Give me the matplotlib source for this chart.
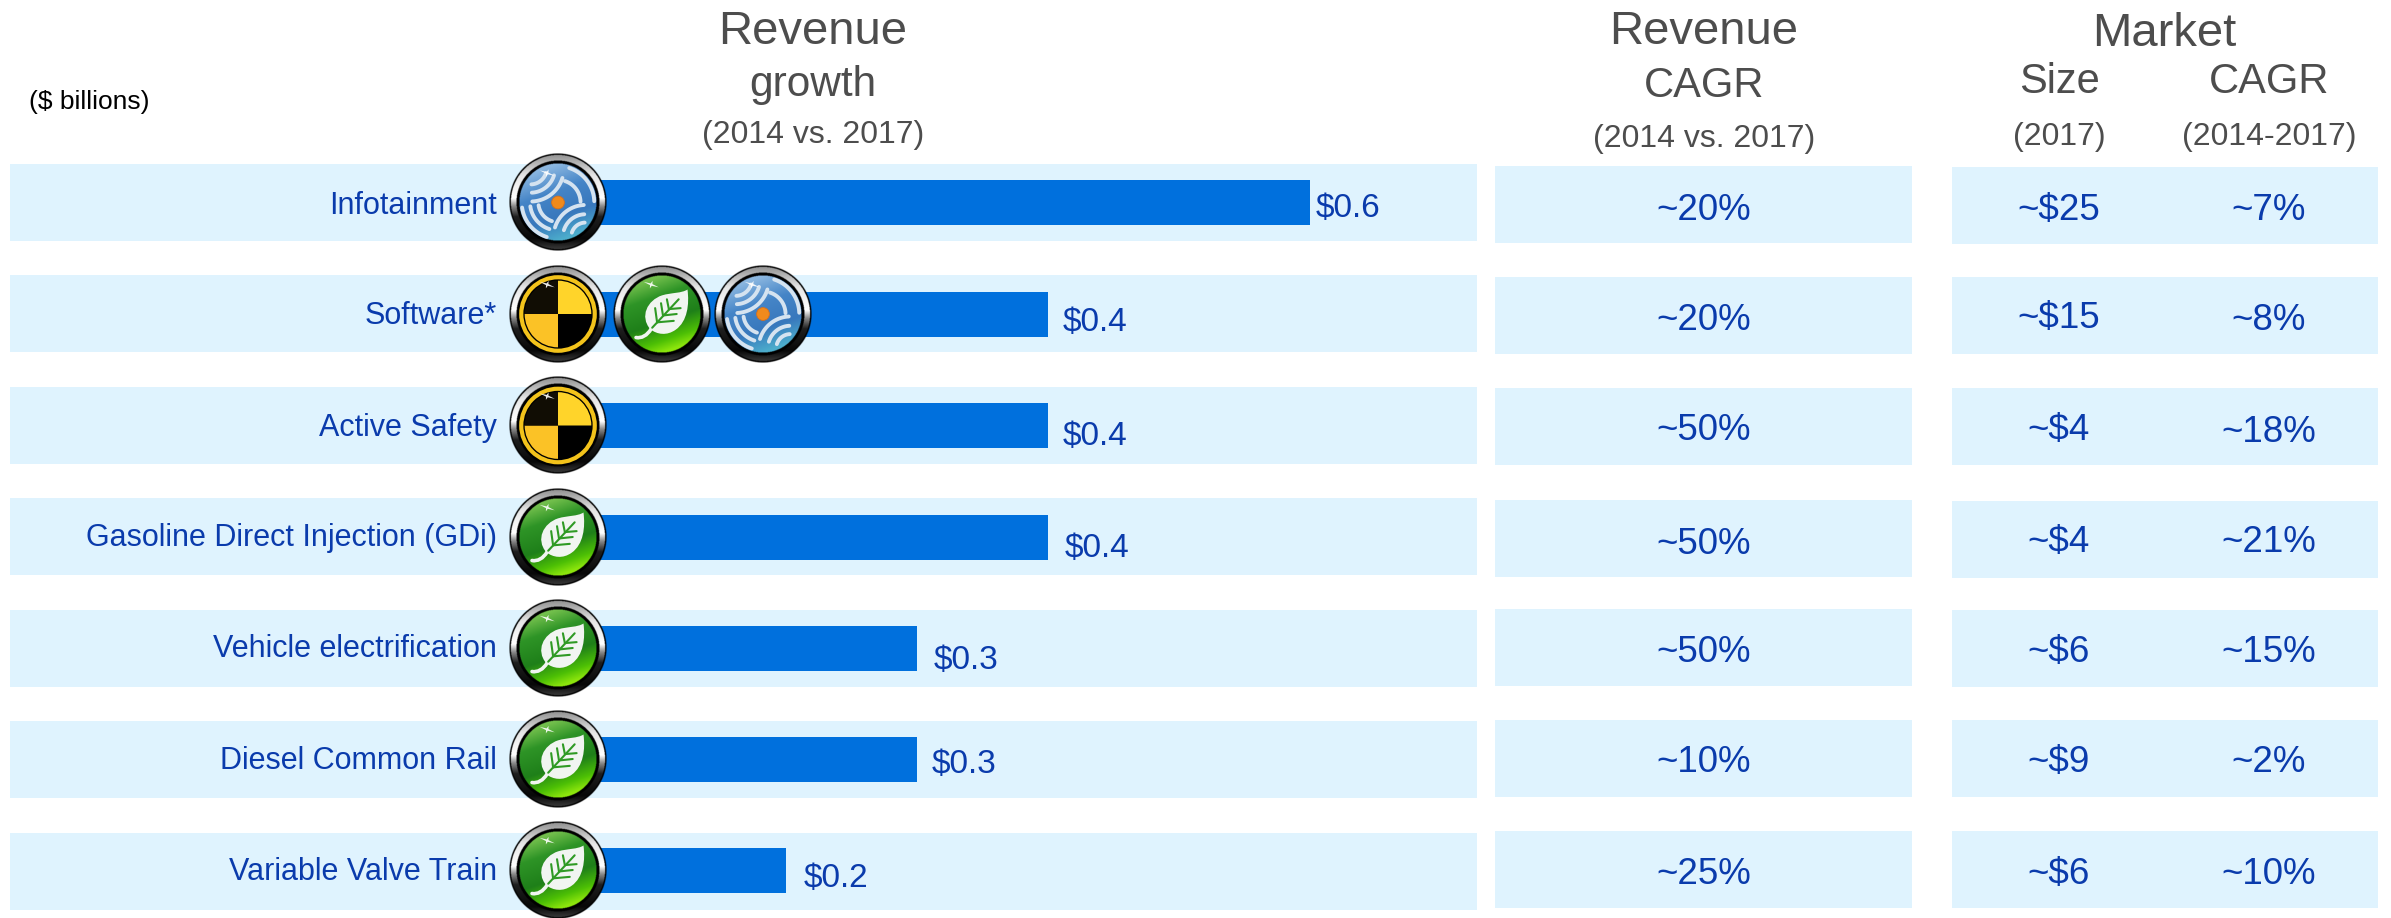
import numpy as np
import matplotlib
matplotlib.use("Agg")
import matplotlib.pyplot as plt
from matplotlib.patches import Rectangle, Circle, Wedge, PathPatch, Polygon
from matplotlib.path import Path

plt.rcParams['font.family'] = ['Liberation Sans', 'DejaVu Sans']

# ---- data ----
categories = ["Infotainment", "Software*", "Active Safety", "Gasoline Direct Injection (GDi)",
              "Vehicle electrification", "Diesel Common Rail", "Variable Valve Train"]
revenue_growth = [0.6, 0.4, 0.4, 0.4, 0.3, 0.3, 0.2]
revenue_cagr = ["~20%", "~20%", "~50%", "~50%", "~50%", "~10%", "~25%"]
market_size = ["~$25", "~$15", "~$4", "~$4", "~$6", "~$9", "~$6"]
market_cagr = ["~7%", "~8%", "~18%", "~21%", "~15%", "~2%", "~10%"]
row_icons = [["waves"], ["crash", "leaf", "waves"], ["crash"], ["leaf"], ["leaf"], ["leaf"], ["leaf"]]

# ---- layout (pixels of the 2391x918 canvas) ----
W, H = 2391, 918
BLUE_TXT = "#0a3bac"
GREY_TXT = "#4d4d4d"
BAND = "#dff3fe"
BAR = "#0070dd"
band1_top = [164, 275, 387, 498, 610, 721, 833]
band2_top = [166, 277, 388, 500, 609, 720, 831]
band3_top = [167, 277, 388, 501, 610, 720, 831]
band_h = 77
bar_center = [202.5, 314, 425.5, 537, 648, 759, 870]
label_y = [206, 316, 428, 538, 649, 761, 872]
value_y = [209, 323, 437, 549, 660, 765, 878]
value_gap = [6, 15, 15, 17, 17, 15, 18]
col2_y = [210, 320, 431, 544, 653, 762, 874]
size_y = [210, 318, 431, 543, 653, 763, 874]
mcagr_y = [210, 320, 432, 543, 653, 763, 875]
icon_x = [558, 662, 763]
icon_r = 49

fig = plt.figure(figsize=(W / 100, H / 100), dpi=100, facecolor="white")


def pixel_axes(z):
    a = fig.add_axes([0, 0, 1, 1], zorder=z)
    a.set_xlim(0, W)
    a.set_ylim(H, 0)
    a.axis("off")
    a.patch.set_alpha(0)
    return a


bg = pixel_axes(0)
top = pixel_axes(2)

# bands
for t in band1_top:
    bg.add_patch(Rectangle((10, t), 1467, band_h, color=BAND, lw=0))
for t in band2_top:
    bg.add_patch(Rectangle((1495, t), 417, band_h, color=BAND, lw=0))
for t in band3_top:
    bg.add_patch(Rectangle((1952, t), 426, band_h, color=BAND, lw=0))

# bars on real axes: x=0 at pixel 524, 1310 px per $1bn
x0_px, px_per = 524, 1310
ax = fig.add_axes([x0_px / W, 0, (1477 - x0_px) / W, 1], zorder=1)
ax.patch.set_alpha(0)
ax.set_xlim(0, (1477 - x0_px) / px_per)
ax.set_ylim(H, 0)
ax.axis("off")
ax.barh(bar_center, revenue_growth, height=45, color=BAR, lw=0)
for v, yt, g in zip(revenue_growth, value_y, value_gap):
    ax.annotate(f"${v:.1f}", (v, yt), xytext=(g * 0.72, 0), textcoords="offset points",
                ha="left", va="center", fontsize=24, color=BLUE_TXT)

# text
for name, y in zip(categories, label_y):
    bg.text(497, y, name, ha="right", va="center", fontsize=22, color=BLUE_TXT)
for s, y in zip(revenue_cagr, col2_y):
    bg.text(1704, y, s, ha="center", va="center", fontsize=26.5, color=BLUE_TXT)
for s, y in zip(market_size, size_y):
    bg.text(2059, y, s, ha="center", va="center", fontsize=26.5, color=BLUE_TXT)
for s, y in zip(market_cagr, mcagr_y):
    bg.text(2269, y, s, ha="center", va="center", fontsize=26.5, color=BLUE_TXT)

headers = [("Revenue", 813, 32, 34), ("growth", 813, 85, 30.5), ("(2014 vs. 2017)", 813, 135, 23),
           ("Revenue", 1704, 32, 34), ("CAGR", 1704, 86, 30), ("(2014 vs. 2017)", 1704, 139, 23),
           ("Market", 2164, 34, 34), ("Size", 2059, 82, 30), ("CAGR", 2269, 82, 30),
           ("(2017)", 2059, 137, 23), ("(2014-2017)", 2269, 137, 23)]
for s, x, y, fs in headers:
    bg.text(x, y, s, ha="center", va="center", fontsize=fs, color=GREY_TXT)
bg.text(29, 102, "($ billions)", ha="left", va="center", fontsize=19, color="black")


# ---- icons ----
def base_image(stops):
    """RGBA chrome ring + shaded disc, in a unit square."""
    n = 260
    g = np.linspace(-1, 1, n)
    xx, yy = np.meshgrid(g, g)
    rr = np.hypot(xx, yy)
    img = np.zeros((n, n, 4))
    chrome = np.interp(yy, [-1, -0.55, -0.08, 0.08, 0.3, 0.75, 1], [.55, .9, 1, .55, .12, .03, .25])
    for c in range(3):
        ch = np.full_like(rr, 0.0)
        ring = (rr < 0.965) & (rr >= 0.85)
        ch[ring] = chrome[ring]
        disc = rr < 0.79
        ch[disc] = np.interp((yy + 0.35 * xx)[disc] / 0.79, stops[0], [s[c] for s in stops[1]])
        img[..., c] = ch
    img[..., 3] = np.clip((1.0 - rr) * 90, 0, 1)
    return img


SHADES = {
    "waves": ([-1, -.3, .4, 1], [(.55, .72, .88), (.27, .52, .78), (.22, .47, .74), (.30, .68, .80)]),
    "leaf": ([-1, -.5, .2, .7, 1], [(.45, .75, .30), (.18, .58, .15), (.12, .50, .10), (.30, .75, .02), (.55, .90, .05)]),
    "crash": ([-1, 1], [(0, 0, 0), (0, 0, 0)]),
}


def arc(a, cx, cy, r, ox, oy, rad, t1, t2):
    t = np.radians(np.linspace(t1, t2, 30))
    a.plot(cx + r * (ox + rad * np.cos(t)), cy + r * (oy + rad * np.sin(t)),
           color="#d5e3f0", lw=2.8, solid_capstyle="round", zorder=6)


def sparkle(a, cx, cy, r):
    sx, sy = cx - 0.22 * r, cy - 0.60 * r
    ang = np.radians(np.arange(0, 360, 45) + 20)
    rad = np.array([8, 1.3, 4, 1.3, 8, 1.3, 4, 1.3])
    a.add_patch(Polygon(np.c_[sx + rad * np.cos(ang), sy + rad * np.sin(ang)], fc="white",
                        ec="none", alpha=.9, zorder=8))


def draw_icon(a, kind, cx, cy, r=icon_r):
    a.imshow(base_image(SHADES[kind]), extent=(cx - r, cx + r, cy + r, cy - r),
             interpolation="bilinear", aspect="auto", zorder=5)
    if kind == "crash":
        a.add_patch(Circle((cx, cy), .75 * r, fc="none", ec="#f3c31b", lw=3.0, zorder=6))
        for t1, col in [(0, "#000000"), (90, "#fbc226"), (180, "#110d04"), (270, "#ffd42a")]:
            a.add_patch(Wedge((cx, cy), .68 * r, t1, t1 + 90, fc=col, lw=0, zorder=6))
    elif kind == "waves":
        for rad in (.46, .74):
            arc(a, cx, cy, r, 0, 0, rad, -72, -2)
        for rad in (.40, .57, .74):
            arc(a, cx, cy, r, 0, 0, rad, 108, 172)
        for rad in (.29, .46, .65):
            arc(a, cx, cy, r, .56, .70, rad, 197, 267)
        for rad in (.33, .50, .68):
            arc(a, cx, cy, r, -.56, -.70, rad, 17, 87)
        a.add_patch(Circle((cx, cy), .13 * r, fc="#f08a1c", ec="#d9701a", lw=.6, zorder=7))
    elif kind == "leaf":
        X = lambda p: (cx + r * p[0], cy + r * p[1])
        verts = [(-.24, .31), (-.46, .05), (-.30, -.28), (.0, -.38), (.2, -.44), (.4, -.42), (.52, -.50),
                 (.56, -.2), (.52, .15), (.28, .32), (.1, .45), (-.1, .42), (-.24, .31)]
        codes = [Path.MOVETO] + [Path.CURVE4] * 12
        a.add_patch(PathPatch(Path([X(v) for v in verts], codes), fc="#f1f5f1", ec="none", zorder=6))
        stem = [(-.22, .30), (-.30, .44), (-.42, .50), (-.53, .48)]
        a.add_patch(PathPatch(Path([X(v) for v in stem], [Path.MOVETO] + [Path.CURVE4] * 3),
                              fc="none", ec="#f1f5f1", lw=2.6, zorder=6, capstyle="round"))
        for p, q in [((-.20, .28), (.34, -.30)), ((-.10, .17), (-.14, -.12)), ((-.10, .17), (.24, .14)),
                     ((.02, .03), (-.02, -.22)), ((.02, .03), (.30, .0)), ((.14, -.10), (.10, -.30)),
                     ((.14, -.10), (.38, -.12))]:
            a.plot(*zip(X(p), X(q)), color="#2f9a24", lw=1.5, solid_capstyle="round", zorder=7)
    sparkle(a, cx, cy, r)


for icons, y in zip(row_icons, bar_center):
    for kind, x in zip(icons, icon_x):
        draw_icon(top, kind, x, y)
top.set_xlim(0, W)
top.set_ylim(H, 0)

fig.savefig("out.png", dpi=100)
